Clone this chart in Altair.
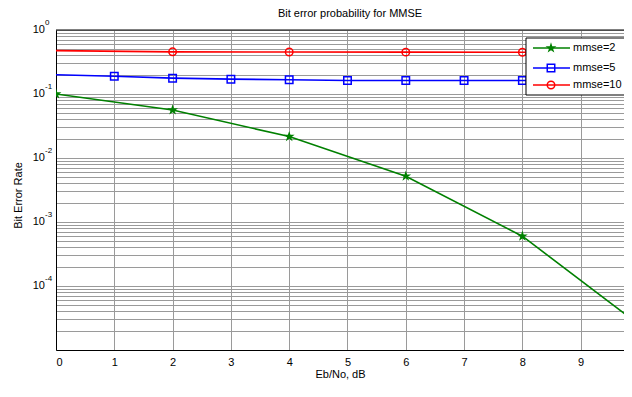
import altair as alt
import pandas as pd

# ---- data ----
series_names = ["mmse=2", "mmse=5", "mmse=10"]
series_colors = ["#008000", "#0000ff", "#ff0000"]

green_x = [0, 2, 4, 6, 8, 10]
green_y = [0.1, 0.0563, 0.0216, 0.0052, 0.0006, 0.000025]
green_marker_x = [0, 2, 4, 6, 8]

blue_x = [0, 1, 2, 3, 4, 5, 6, 7, 8, 9, 10]
blue_y = [0.200, 0.1895, 0.1768, 0.1707, 0.1667, 0.1626, 0.1626, 0.1626, 0.1626, 0.1626, 0.1626]
blue_marker_x = [1, 2, 3, 4, 5, 6, 7, 8, 9]

red_x = [0, 2, 4, 6, 8, 10]
red_y = [0.477, 0.456, 0.453, 0.451, 0.449, 0.448]
red_marker_x = [2, 4, 6, 8, 10]

x_ticks = [0, 1, 2, 3, 4, 5, 6, 7, 8, 9]
y_major = [1, 0.1, 0.01, 0.001, 0.0001]
y_exponents = ["0", "-1", "-2", "-3", "-4"]
y_grid = [round(m * 10.0 ** e, 8) for e in range(-5, 0) for m in range(1, 10)] + [1.0]

chart_title = "Bit error probability for MMSE"
x_title = "Eb/No, dB"
y_title = "Bit Error Rate"

FONT = "Liberation Sans"
STAR = ("M0,-1L0.2245,-0.309L0.9511,-0.309L0.3633,0.118L0.5878,0.809L0,0.382"
        "L-0.5878,0.809L-0.3633,0.118L-0.9511,-0.309L-0.2245,-0.309Z")

W, H = 568, 320

# ---- tables ----
rows = []
for name, xs, ys in [(series_names[0], green_x, green_y),
                     (series_names[1], blue_x, blue_y),
                     (series_names[2], red_x, red_y)]:
    for a, b in zip(xs, ys):
        rows.append({"snr": float(a), "ber": float(b), "series": name})
lines = pd.DataFrame(rows)


def markers(xs, allx, ally, name):
    d = dict(zip(allx, ally))
    return pd.DataFrame({"snr": [float(v) for v in xs], "ber": [float(d[v]) for v in xs], "series": name})


gm = markers(green_marker_x, green_x, green_y, series_names[0])
bm = markers(blue_marker_x, blue_x, blue_y, series_names[1])
rm = markers(red_marker_x, red_x, red_y, series_names[2])

xscale = alt.Scale(domain=[0, 9.743], nice=False, zero=False)
yscale = alt.Scale(type="log", domain=[0.00001, 1], nice=False)

X = alt.X("snr:Q", scale=xscale, axis=alt.Axis(
    values=x_ticks, grid=True, gridColor="#9a9a9a",
    domain=True, domainColor="#000", ticks=False, labelPadding=6, format="d",
    labelFont=FONT, labelFontSize=11, labelColor="#000",
    title=x_title, titleFont=FONT, titleFontSize=11, titleFontWeight="normal",
    titleColor="#000", titlePadding=1))
Y = alt.Y("ber:Q", scale=yscale, axis=alt.Axis(
    values=y_grid, grid=True, gridColor="#9a9a9a",
    labels=False, ticks=False, domain=True, domainColor="#000",
    title=y_title, titleFont=FONT, titleFontSize=11, titleFontWeight="normal",
    titleColor="#000", titleX=-38, titleY=165, titleBaseline="middle", titleAngle=-90))

color_scale = alt.Scale(domain=series_names, range=series_colors)

base_lines = alt.Chart(lines).mark_line(strokeWidth=1.6, clip=True).encode(
    x=X, y=Y, color=alt.Color("series:N", scale=color_scale, legend=None))

g_pts = alt.Chart(gm).mark_point(shape=STAR, filled=True, size=130, color=series_colors[0],
                                 opacity=1, clip=True).encode(x=X, y=Y)
b_pts = alt.Chart(bm).mark_point(shape="square", filled=False, size=56, strokeWidth=1.5,
                                 color=series_colors[1], opacity=1, clip=True).encode(x=X, y=Y)
r_pts = alt.Chart(rm).mark_point(shape="circle", filled=False, size=56, strokeWidth=1.5,
                                 color=series_colors[2], opacity=1, clip=True).encode(x=X, y=Y)

ylab_df = pd.DataFrame({"ber": y_major, "e": y_exponents, "b": ["10"] * len(y_major)})
ylab10 = alt.Chart(ylab_df).mark_text(align="right", baseline="middle",
                                      font=FONT, fontSize=11, color="#000").encode(
    x=alt.value(-11), y=Y, text="b:N")
ylabexp = alt.Chart(ylab_df).mark_text(align="left", baseline="middle", dy=-7,
                                       font=FONT, fontSize=8, color="#000").encode(
    x=alt.value(-11), y=Y, text="e:N")

one = pd.DataFrame({"k": [0]})
title_text = alt.Chart(one).mark_text(text=chart_title, align="center", baseline="middle",
                                      font=FONT, fontSize=11, color="#000").encode(
    x=alt.value(294), y=alt.value(-16))
top_border = alt.Chart(one).mark_rule(color="#000", strokeWidth=1).encode(
    x=alt.value(0), x2=alt.value(W), y=alt.value(0))

# ---- legend box (MATLAB style) ----
leg_rows = [18, 38, 55]
leg_shapes = [STAR, "square", "circle"]
leg_filled = [True, False, False]
leg_sizes = [130, 56, 56]
legend_layers = [
    alt.Chart(one).mark_rect(fill="white", stroke="#000", strokeWidth=1).encode(
        x=alt.value(470), x2=alt.value(600), y=alt.value(8), y2=alt.value(65))
]
for i, name in enumerate(series_names):
    legend_layers.append(alt.Chart(one).mark_rule(color=series_colors[i], strokeWidth=1.6).encode(
        x=alt.value(477), x2=alt.value(514), y=alt.value(leg_rows[i])))
    legend_layers.append(alt.Chart(one).mark_point(
        shape=leg_shapes[i], filled=leg_filled[i], size=leg_sizes[i],
        strokeWidth=1.5, color=series_colors[i], opacity=1).encode(
        x=alt.value(495), y=alt.value(leg_rows[i])))
    legend_layers.append(alt.Chart(one).mark_text(
        text=name, align="left", baseline="middle", font=FONT, fontSize=11, color="#000").encode(
        x=alt.value(517), y=alt.value(leg_rows[i])))

chart = alt.layer(
    base_lines, g_pts, b_pts, r_pts, ylab10, ylabexp, title_text, top_border, *legend_layers
).properties(
    width=W, height=H,
    autosize=alt.AutoSizeParams(type="none"),
    padding={"left": 48, "top": 22, "right": 0, "bottom": 30},
    background="white",
).configure_view(stroke="transparent")

chart.save("out.html", embed_options={"renderer": "svg", "actions": False})
